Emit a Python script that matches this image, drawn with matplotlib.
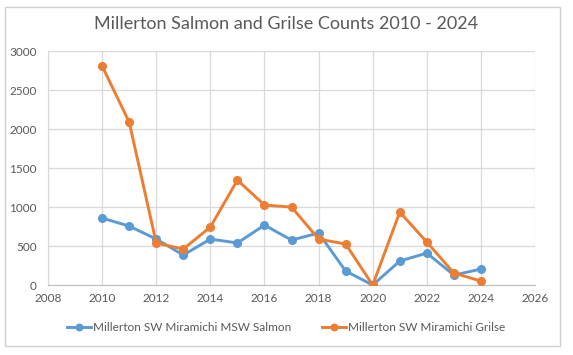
import matplotlib.pyplot as plt
from matplotlib.patches import Rectangle

plt.rcParams['font.family'] = ['Lato', 'DejaVu Sans']

years = [2010, 2011, 2012, 2013, 2014, 2015, 2016, 2017, 2018, 2019, 2020, 2021, 2022, 2023, 2024]
salmon = [859, 756, 590, 385, 590, 540, 769, 577, 667, 180, 0, 308, 410, 128, 205]
grilse = [2808, 2090, 538, 462, 744, 1346, 1026, 1000, 590, 526, 0, 936, 551, 154, 51]
xticks = list(range(2008, 2027, 2))
yticks = [0, 500, 1000, 1500, 2000, 2500, 3000]

txt = '#595959'
grid = '#d9d9d9'

fig = plt.figure(figsize=(5.73, 3.55), dpi=100)
fig.patch.set_facecolor('white')
# chart border
fig.patches.append(Rectangle((0.009, 0.025), 0.968, 0.955, transform=fig.transFigure,
                             fill=False, edgecolor='#d0d0d0', linewidth=1))

ax = fig.add_axes([0.0838, 0.197, 0.850, 0.659])
ax.plot(years, salmon, color='#5B9BD5', lw=2.1, marker='o', ms=5.5,
        label='Millerton SW Miramichi MSW Salmon', zorder=3)
ax.plot(years, grilse, color='#ED7D31', lw=2.1, marker='o', ms=5.5,
        label='Millerton SW Miramichi Grilse', zorder=3)

ax.set_xlim(2008, 2026)
ax.set_ylim(0, 3000)
ax.set_xticks(xticks)
ax.set_yticks(yticks)
ax.grid(True, color=grid, lw=0.9)
ax.set_axisbelow(True)
for s in ['top', 'right']:
    ax.spines[s].set_visible(False)
ax.spines['left'].set_color(grid)
ax.spines['bottom'].set_color('#bfbfbf')
ax.tick_params(length=0, colors=txt, labelsize=8.5, pad=6)
ax.tick_params(axis='y', pad=8)

fig.suptitle('Millerton Salmon and Grilse Counts 2010 - 2024', y=0.955,
             fontsize=13, color=txt)
leg = fig.legend(loc='center', bbox_to_anchor=(0.5, 0.078), ncol=2, frameon=False,
                 fontsize=8.5, labelcolor=txt, handlelength=2.0, columnspacing=2.6,
                 handletextpad=0.2, markerscale=0.85)

fig.savefig('out.png', dpi=100)
